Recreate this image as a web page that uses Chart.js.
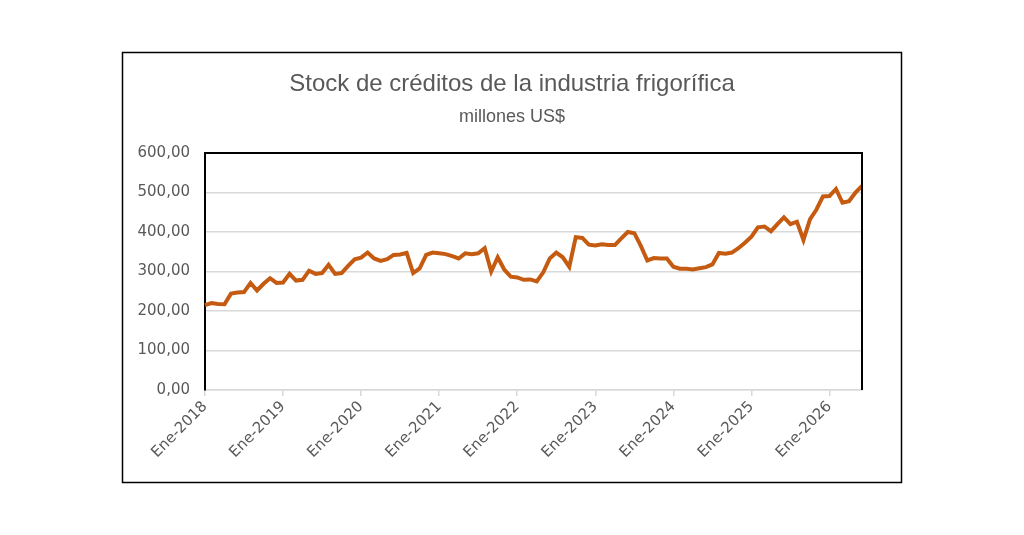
<!DOCTYPE html>
<html>
<head>
<meta charset="utf-8">
<script src="https://cdn.jsdelivr.net/npm/chart.js@4.4.1/dist/chart.umd.min.js"></script>
<style>
html,body{margin:0;padding:0;background:#fff;}
#wrap{width:1024px;height:535px;position:relative;}
</style>
</head>
<body>
<div id="wrap"><canvas id="c" width="1024" height="535"></canvas></div>
<script>
const TITLE = 'Stock de créditos de la industria frigorífica';
const SUBTITLE = 'millones US$';
const MONTHS = ['Ene','Feb','Mar','Abr','May','Jun','Jul','Ago','Sep','Oct','Nov','Dic'];
const YEARS = [2018,2019,2020,2021,2022,2023,2024,2025,2026];
const MONTH_COUNT = 102; // Ene-2018 .. Jun-2026
const Y_TICKS = [0,100,200,300,400,500,600];

const stock = [
  215,220,218,217,244,247,248,271,252,269,283,271,
  272,294,277,279,302,294,296,317,294,296,314,331,
  335,348,333,327,331,342,343,347,296,308,342,348,
  346,344,339,333,346,344,346,359,300,336,305,287,
  285,279,280,275,298,333,348,336,312,387,385,368,
  366,369,367,367,384,400,397,365,328,334,333,333,
  312,307,307,305,308,311,318,347,345,348,359,373,
  388,412,414,402,420,437,420,426,380,432,457,490,
  491,509,474,478,500,517
];

const categories = [];
for (const y of YEARS) for (const m of MONTHS) {
  if (categories.length < MONTH_COUNT) categories.push(m + '-' + y);
}

const frame = {
  id: 'frame',
  afterDraw(chart) {
    const ctx = chart.ctx, a = chart.chartArea;
    ctx.save();
    ctx.strokeStyle = '#000';
    ctx.lineWidth = 1.5;
    ctx.strokeRect(122.5, 52.5, 779, 430);
    ctx.lineWidth = 2;
    ctx.beginPath();
    ctx.moveTo(a.left, a.top);
    ctx.lineTo(a.right, a.top);
    ctx.lineTo(a.right, a.bottom);
    ctx.stroke();
    ctx.restore();
  }
};

new Chart(document.getElementById('c'), {
  type: 'line',
  data: {
    labels: categories,
    datasets: [{
      data: stock,
      borderColor: '#C55A11',
      borderWidth: 4,
      pointRadius: 0,
      tension: 0,
      fill: false
    }]
  },
  options: {
    responsive: false,
    animation: false,
    layout: { padding: { left: 102, right: 102, top: 0, bottom: 52 } },
    plugins: {
      legend: { display: false },
      tooltip: { enabled: false },
      title: {
        display: true, text: TITLE, color: '#595959',
        font: { family: "'Liberation Sans Narrow','Liberation Sans',Arial,sans-serif", size: 24, weight: 'normal', lineHeight: 1.2 },
        padding: { top: 70, bottom: 0 }
      },
      subtitle: {
        display: true, text: SUBTITLE, color: '#595959',
        font: { family: "'Liberation Sans Narrow','Liberation Sans',Arial,sans-serif", size: 18, weight: 'normal', lineHeight: 1.2 },
        padding: { top: 7, bottom: 25.6 }
      }
    },
    scales: {
      x: {
        type: 'category',
        offset: false,
        afterFit(s) { s.height = 93; },
        grid: {
          display: true, drawOnChartArea: false, drawTicks: true, tickLength: 6,
          color: (c) => (c.index % 12 === 0 ? '#d9d9d9' : 'rgba(0,0,0,0)'),
          lineWidth: 1.5
        },
        border: { display: true, color: '#d9d9d9', width: 1.5 },
        ticks: {
          autoSkip: false, maxRotation: 45, minRotation: 45,
          color: '#595959', padding: 2,
          font: { family: "'DejaVu Sans',sans-serif", size: 15 },
          callback: function(v, i) { return i % 12 === 0 ? categories[i] : ''; }
        }
      },
      y: {
        position: 'left',
        min: Y_TICKS[0], max: Y_TICKS[Y_TICKS.length - 1],
        afterFit(s) { s.width = 103; },
        afterBuildTicks(s) { s.ticks = Y_TICKS.map(v => ({ value: v })); },
        grid: { color: '#d9d9d9', lineWidth: 1.5, drawTicks: false },
        border: { display: true, color: '#000', width: 2 },
        ticks: {
          color: '#595959', padding: 15,
          font: { family: "'DejaVu Sans',sans-serif", size: 15 },
          callback: (v) => v.toFixed(2).replace('.', ',')
        }
      },
      spacer: {
        type: 'linear', position: 'right', display: true,
        afterFit(s) { s.width = 60; },
        grid: { display: false, drawOnChartArea: false },
        border: { display: false },
        ticks: { display: false }
      }
    }
  },
  plugins: [frame]
});
</script>
</body>
</html>
